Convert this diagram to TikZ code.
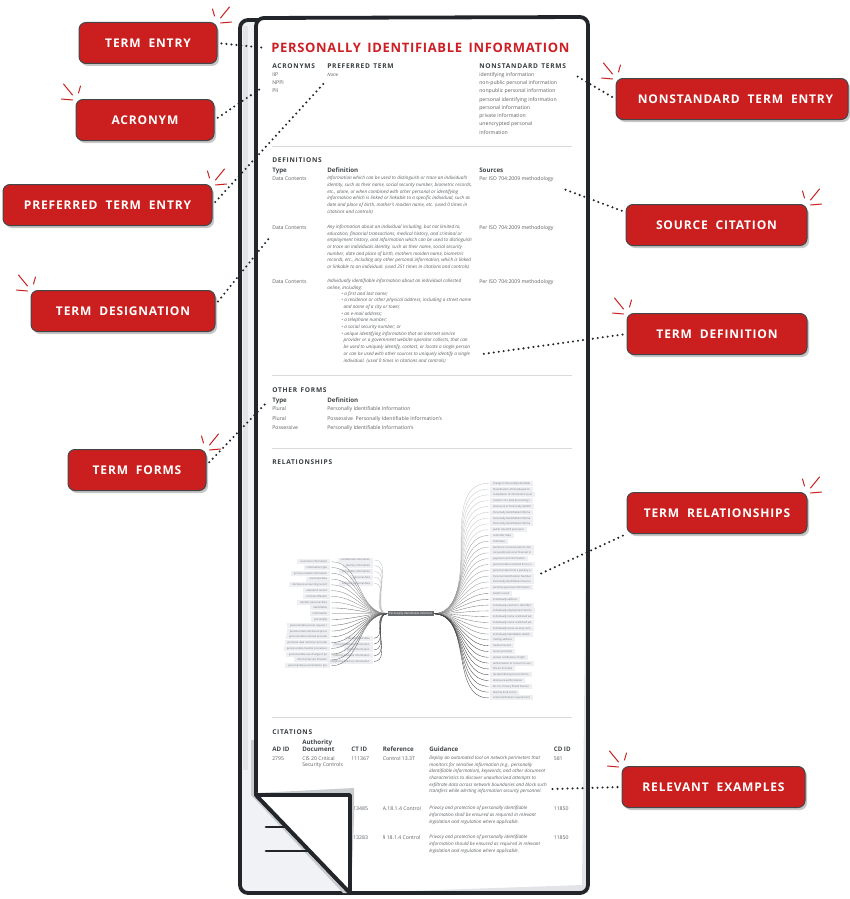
\documentclass[tikz,border=0pt]{standalone}
\usepackage{fontspec}
\setmainfont{Open Sans}
\newfontfamily\spacedfont[LetterSpace=7,WordSpace=2]{Open Sans}
\newfontfamily\headfont[LetterSpace=11,WordSpace=1.4]{Open Sans}
\newfontfamily\titlefont[LetterSpace=5.2,WordSpace=1.6]{Open Sans}
\usepackage{xcolor}
\usetikzlibrary{positioning,shadows}
\definecolor{calloutred}{HTML}{CB1E1E}
\definecolor{titlered}{HTML}{CF1F26}
\definecolor{inkdark}{HTML}{22262A}
\definecolor{bodygrey}{HTML}{5C5F63}
\definecolor{rulegrey}{HTML}{D8DADC}
\definecolor{stripgrey}{HTML}{F1F2F6}
\definecolor{stripdark}{HTML}{E2E4E8}
\definecolor{shadegrey}{HTML}{C9CCCE}
\definecolor{pillgrey}{HTML}{EDEFF3}
\definecolor{hubgrey}{HTML}{6B6E71}
\tikzset{sparks/.pic={\draw[spark] (-5,-13) -- (-3,-6) (3,-4) -- (12,-15) (3,1) -- (14,0);}}

\begin{document}
\begin{tikzpicture}[x=1pt,y=-1pt,semithick]
\tikzstyle{spark}=[draw=calloutred,line width=1pt,line cap=round]
\tikzstyle{callout}=[draw=inkdark!85,line width=1pt,fill=calloutred,rounded corners=7pt,
  minimum height=41pt,text=white,inner sep=0pt,
  font=\spacedfont\bfseries\fontsize{12}{14}\selectfont,
  general shadow={fill=black!22,shadow xshift=2pt,shadow yshift=-2.5pt}]
\tikzstyle{dotline}=[draw=inkdark,line width=2.3pt,line cap=round,dash pattern=on 0pt off 5pt,shorten <=4pt]
\tikzstyle{sheet}=[draw=inkdark,line width=3.8pt,line join=round]
\tikzstyle{rulerline}=[draw=rulegrey,line width=0.9pt]
\tikzstyle{head}=[anchor=west,inner sep=0pt,text=inkdark!90,text height=5pt,text depth=0pt,
  font=\headfont\bfseries\fontsize{6.6}{8}\selectfont]
\tikzstyle{colhead}=[anchor=west,inner sep=0pt,text=inkdark!85,text height=5pt,text depth=1pt,
  font=\bfseries\fontsize{6.2}{7.2}\selectfont]
\tikzstyle{body}=[anchor=west,inner sep=0pt,text=bodygrey,text height=4pt,text depth=1pt,
  font=\fontsize{5.15}{6.7}\selectfont]
\tikzstyle{para}=[anchor=north west,inner sep=0pt,text=bodygrey,align=left,yshift=-0.4pt,
  font=\itshape\fontsize{4.65}{6.68}\selectfont]
\tikzstyle{pillR}=[inner xsep=3pt,inner ysep=0pt,outer xsep=1.5pt,fill=pillgrey,text=bodygrey!85,minimum height=5pt,
  text height=2.4pt,text depth=0.5pt,font=\fontsize{2.6}{3}\selectfont]
\tikzstyle{pillL}=[pillR]
\tikzstyle{nextR}=[below=5.8pt of #1.west,anchor=west]
\tikzstyle{nextL}=[below=5.78pt of #1.east,anchor=east]
\tikzstyle{curve}=[line width=0.35pt,out=0,in=180]
\tikzstyle{curveL}=[line width=0.35pt,out=180,in=0]

% callouts
\node[callout,minimum width=138pt] (TE) at (148,43) {TERM ENTRY};
\node[callout,minimum width=138pt] (AC) at (145,120) {ACRONYM};
\node[callout,minimum width=209pt] (PT) at (107.5,205) {PREFERRED TERM ENTRY};
\node[callout,minimum width=184pt] (TD) at (123,311) {TERM DESIGNATION};
\node[callout,minimum width=138pt] (TF) at (137,470) {TERM FORMS};
\node[callout,minimum width=232pt] (NT) at (732,99) {\hspace*{7pt}NONSTANDARD TERM ENTRY};
\node[callout,minimum width=181pt] (SC) at (716.5,225) {SOURCE CITATION};
\node[callout,minimum width=180pt] (DF) at (717,334) {TERM DEFINITION};
\node[callout,minimum width=180pt] (RL) at (717,513) {TERM RELATIONSHIPS};
\node[callout,minimum width=183pt] (EX) at (713.5,787) {RELEVANT EXAMPLES};

\pic at (TE.north east) {sparks};
\pic[xscale=-1] at (AC.north west) {sparks};
\pic at (PT.north east) {sparks};
\pic[xscale=-1] at (TD.north west) {sparks};
\pic at (TF.north east) {sparks};
\pic[xscale=-1] at (NT.north west) {sparks};
\pic at (SC.north east) {sparks};
\pic[xscale=-1] at (DF.north west) {sparks};
\pic at (RL.north east) {sparks};
\pic[xscale=-1] at (EX.north west) {sparks};

% back sheet and front sheet
\draw[sheet,fill=stripgrey,rounded corners=8pt] (352,893) -- (240,893) -- (240,20) -- (300,20);
\fill[stripdark] (242.5,26) rectangle (248,770);
\fill[shadegrey] (251,740) -- (256,740) -- (256,795) -- (350,893) -- (343,893) -- (251,795) -- cycle;
\fill[white] (256,795) [rounded corners=8pt] -- (256,18) -- (588,17) -- (588,893) [sharp corners] -- (350,893) -- cycle;
\fill[stripdark] (588,380) -- (588,893) -- (350,893) -- (582,885) -- cycle;
\draw[sheet] (256,795) [rounded corners=8pt] -- (256,18) -- (588,17) -- (588,893) [sharp corners] -- (350,893) -- cycle;

% term entry
\node[anchor=west,inner sep=0pt,text=titlered,font=\titlefont\bfseries\fontsize{13}{15}\selectfont] (TITLE) at (271,48) {PERSONALLY IDENTIFIABLE INFORMATION};
\node[head] (hACR) at (272,66) {ACRONYMS};
\node[head] (hPRE) at (327,66) {PREFERRED TERM};
\node[head] (hNON) at (479,66) {NONSTANDARD TERMS};
\node[body] (a1) at (272,74.5) {IIP};
\node[body] (a2) at (272,83) {NPPI};
\node[body] (a3) at (272,91) {PII};
\node[body,font=\itshape\fontsize{4.65}{6.7}\selectfont] (p1) at (327,74.5) {None};
\node[body] (n1) at (479,74.5) {identifying information};
\node[body] (n2) at (479,83) {non-public personal information};
\node[body] (n3) at (479,91) {nonpublic personal information};
\node[body] (n4) at (479,99.5) {personal identifying information};
\node[body] (n5) at (479,108) {personal information};
\node[body] (n6) at (479,116) {private information};
\node[body] (n7) at (479,124) {unencrypted personal};
\node[body] (n8) at (479,132.5) {information};
\draw[rulerline] (272,146) -- (572,146);

% definitions
\node[head] (hDEF) at (272,160) {DEFINITIONS};
\node[colhead] (dT) at (272,170.5) {Type};
\node[colhead] (dD) at (327,170.5) {Definition};
\node[colhead] (dS) at (479,170.5) {Sources};
\node[body] (t1) at (272,179) {Data Contents};
\node[body] (s1) at (479,179) {Per ISO 704:2009 methodology};
\node[para] (d1) at (327,175.6) {Information which can be used to distinguish or trace an individual's\\
identity, such as their name, social security number, biometric records,\\
etc., alone, or when combined with other personal or identifying\\
information which is linked or linkable to a specific individual, such as\\
date and place of birth, mother's maiden name, etc. (used 0 times in\\
citations and controls)};
\node[body] (t2) at (272,227.5) {Data Contents};
\node[body] (s2) at (479,227.5) {Per ISO 704:2009 methodology};
\node[para] (d2) at (327,224.1) {Any information about an individual including, but not limited to,\\
education, financial transactions, medical history, and criminal or\\
employment history, and information which can be used to distinguish\\
or trace an individuals identity, such as their name, social security\\
number, date and place of birth, mothers maiden name, biometric\\
records, etc., including any other personal information, which is linked\\
or linkable to an individual. (used 251 times in citations and controls)};
\node[body] (t3) at (272,282) {Data Contents};
\node[body] (s3) at (479,282) {Per ISO 704:2009 methodology};
\node[para] (d3) at (327,278.6) {Individually identifiable information about an individual collected\\
online, including:};
\node[para,below=0pt of d3.south west,anchor=north west,xshift=14pt] (d3b) {\textbullet\ a first and last name;\\
\textbullet\ a residence or other physical address, including a street name\\
\hspace*{2.3pt}and name of a city or town;\\
\textbullet\ an e-mail address;\\
\textbullet\ a telephone number;\\
\textbullet\ a social security number; or\\
\textbullet\ unique identifying information that an internet service\\
\hspace*{2.3pt}provider or a government website operator collects, that can\\
\hspace*{2.3pt}be used to uniquely identify, contact, or locate a single person\\
\hspace*{2.3pt}or can be used with other sources to uniquely identify a single\\
\hspace*{2.3pt}individual. (used 0 times in citations and controls)};
\draw[rulerline] (272,375) -- (572,375);

% other forms
\node[head] (hOTH) at (272,390) {OTHER FORMS};
\node[colhead] (oT) at (272,400.5) {Type};
\node[colhead] (oD) at (327,400.5) {Definition};
\node[body] (o1) at (272,409) {Plural};
\node[body] (o2) at (272,418.5) {Plural};
\node[body] (o3) at (272,428) {Possessive};
\node[body] (f1) at (327,409) {Personally Identifiable Information};
\node[body] (f2) at (327,418.5) {Possessive\ \ Personally Identifiable Information's};
\node[body] (f3) at (327,428) {Personally Identifiable Information's};
\draw[rulerline] (272,448) -- (572,448);

% relationships
\node[head] (hREL) at (272,462) {RELATIONSHIPS};
\node[inner sep=0pt,fill=hubgrey,text=white,minimum width=46pt,minimum height=5pt,text height=2.4pt,text depth=0.5pt,font=\fontsize{2.9}{3.4}\selectfont] (HUB) at (410.5,613.7) {Personally Identifiable Informat};

\node[pillR,anchor=west] (R1) at (488.5,483.3) {change in Personally Identifiab};
\node[pillR,nextR=R1] (R2) {Classification of Files Based on};
\node[pillR,nextR=R2] (R3) {compilation of information (sum};
\node[pillR,nextR=R3] (R4) {creation of a data processing s};
\node[pillR,nextR=R4] (R5) {disclosure of Personally Identifi};
\node[pillR,nextR=R5] (R6) {Personally Identifiable Informa};
\node[pillR,nextR=R6] (R7) {Personally Identifiable Informa};
\node[pillR,nextR=R7] (R8) {Personally Identifiable Informa};
\node[pillR,nextR=R8] (R9) {public cloud PII processor};
\node[pillR,nextR=R9] (R10) {controller data};
\node[pillR,nextR=R10] (R11) {child data};
\node[pillR,nextR=R11] (R12) {electronic communications info};
\node[pillR,nextR=R12] (R13) {non-public personal financial in};
\node[pillR,nextR=R13] (R14) {payment card information};
\node[pillR,nextR=R14] (R15) {personal data collected from a c};
\node[pillR,nextR=R15] (R16) {personal data from a publicly a};
\node[pillR,nextR=R16] (R17) {Personal Identification Number};
\node[pillR,nextR=R17] (R18) {Personally Identifiable Financia};
\node[pillR,nextR=R18] (R19) {sensitive personal information};
\node[pillR,nextR=R19] (R20) {health record};
\node[pillR,nextR=R20] (R21) {individually address};
\node[pillR,nextR=R21] (R22) {individually electronic identifier};
\node[pillR,nextR=R22] (R23) {individually employment inform};
\node[pillR,nextR=R23] (R24) {individually name combined wit};
\node[pillR,nextR=R24] (R25) {individually name combined wit};
\node[pillR,nextR=R25] (R26) {individually social security num};
\node[pillR,nextR=R26] (R27) {Individually Identifiable Health};
\node[pillR,nextR=R27] (R28) {mailing address};
\node[pillR,nextR=R28] (R29) {medical record};
\node[pillR,nextR=R29] (R30) {access principle};
\node[pillR,nextR=R30] (R31) {annual notification of right};
\node[pillR,nextR=R31] (R32) {authorization of consent to use};
\node[pillR,nextR=R32] (R33) {Choice Principle};
\node[pillR,nextR=R33] (R34) {de-identified personal inform};
\node[pillR,nextR=R34] (R35) {disclosure authorization};
\node[pillR,nextR=R35] (R36) {EU-U.S. Privacy Shield Frames};
\node[pillR,nextR=R36] (R37) {identity theft victim};
\node[pillR,nextR=R37] (R38) {initial notification requirement};

\node[pillL,anchor=east] (L1) at (331.5,561.7) {customer information};
\node[pillL,nextL=L1] (L2) {information type};
\node[pillL,nextL=L2] (L3) {privacy-related information};
\node[pillL,nextL=L3] (L4) {restricted data};
\node[pillL,nextL=L4] (L5) {disclosure accounting record};
\node[pillL,nextL=L5] (L6) {education record};
\node[pillL,nextL=L6] (L7) {criminal offender};
\node[pillL,nextL=L7] (L8) {transfer personal data};
\node[pillL,nextL=L8] (L9) {identifiable};
\node[pillL,nextL=L9] (L10) {information};
\node[pillL,nextL=L10] (L11) {personally};
\node[pillL,nextL=L11] (L12) {personal data access request r};
\node[pillL,nextL=L12] (L13) {personal data disclosure proce};
\node[pillL,nextL=L13] (L14) {personal data removal procedu};
\node[pillL,nextL=L14] (L15) {personal data retention procedu};
\node[pillL,nextL=L15] (L16) {personal data transfer procedure};
\node[pillL,nextL=L16] (L17) {personal data use change of pu};
\node[pillL,nextL=L17] (L18) {Internet Service Provider};
\node[pillL,nextL=L18] (L19) {personal data use limitation pro};

\node[pillL,anchor=east] (U1) at (374.5,560) {confidential information};
\node[pillL,nextL=U1] (U2) {identity information};
\node[pillL,nextL=U2] (U3) {non-public information};
\node[pillL,nextL=U3] (U4) {personal data};
\node[pillL,nextL=U4] (U5) {sensitive personal data};
\node[pillL,anchor=east] (D1) at (374,638.3) {de-identified data};
\node[pillL,nextL=D1] (D2) {non-confidential information};
\node[pillL,nextL=D2] (D3) {public information};
\node[pillL,nextL=D3] (D4) {Publicly Available Information};
\node[pillL,nextL=D4] (D5) {telephone directory information};

\path[curve,draw=black!22] (HUB.east) edge (R1.west) edge (R2.west) edge (R3.west) edge (R4.west) edge (R5.west) edge (R6.west) edge (R7.west) edge (R8.west) edge (R9.west);
\path[curve,draw=black!38] (HUB.east) edge (R10.west) edge (R11.west) edge (R12.west) edge (R13.west) edge (R14.west) edge (R15.west) edge (R16.west) edge (R17.west) edge (R18.west) edge (R19.west);
\path[curve,draw=black!52] (HUB.east) edge (R20.west) edge (R21.west) edge (R22.west) edge (R23.west) edge (R24.west) edge (R25.west) edge (R26.west) edge (R27.west) edge (R28.west);
\path[curve,draw=black!72] (HUB.east) edge (R29.west) edge (R30.west) edge (R31.west) edge (R32.west) edge (R33.west) edge (R34.west) edge (R35.west) edge (R36.west) edge (R37.west) edge (R38.west);
\path[curveL,draw=black!25] (HUB.west) edge (U1.east) edge (U2.east) edge (U3.east) edge (U4.east) edge (U5.east);
\path[curveL,draw=black!45] (HUB.west) edge (L1.east) edge (L2.east) edge (L3.east) edge (L4.east) edge (L5.east) edge (L6.east) edge (L7.east) edge (L8.east);
\path[curveL,draw=black!60] (HUB.west) edge (L9.east) edge (L10.east) edge (L11.east) edge (L12.east) edge (L13.east) edge (L14.east) edge (L15.east) edge (L16.east) edge (L17.east) edge (L18.east) edge (L19.east);
\path[curveL,draw=black!72] (HUB.west) edge (D1.east) edge (D2.east) edge (D3.east) edge (D4.east) edge (D5.east);
\draw[rulerline] (272,717) -- (572,717);

% citations
\node[head] (hCIT) at (272,731.5) {CITATIONS};
\node[colhead] (cA) at (272,749.5) {AD ID};
\node[colhead] (cB1) at (302,742.5) {Authority};
\node[colhead] (cB2) at (302,749.5) {Document};
\node[colhead] (cC) at (351,749.5) {CT ID};
\node[colhead] (cR) at (382.5,749.5) {Reference};
\node[colhead] (cG) at (429,749.5) {Guidance};
\node[colhead] (cD) at (553.5,749.5) {CD ID};
\node[body] (ca1) at (272,758.5) {2795};
\node[body] (cb1) at (302,758.5) {CIS 20 Critical};
\node[body] (cb2) at (302,765) {Security Controls};
\node[body] (cc1) at (351,758.5) {111367};
\node[body] (cr1) at (382.5,758.5) {Control 13.3T};
\node[para] (cg1) at (429,755.1) {Deploy an automated tool on network perimeters that\\
monitors for sensitive information (e.g., personally\\
identifiable information), keywords, and other document\\
characteristics to discover unauthorized attempts to\\
exfiltrate data across network boundaries and block such\\
transfers while alerting information security personnel.};
\node[body] (cd1) at (553.5,758.5) {581};
\node[body] (cc2) at (350,809) {113485};
\node[body] (cr2) at (382.5,809) {A.18.1.4 Control};
\node[para] (cg2) at (429,805.6) {Privacy and protection of personally identifiable\\
information shall be ensured as required in relevant\\
legislation and regulation where applicable.};
\node[body] (cd2) at (553.5,809) {11850};
\node[body] (cc3) at (350,838) {113283};
\node[body] (cr3) at (382.5,838) {\S\ 18.1.4 Control};
\node[para] (cg3) at (429,834.6) {Privacy and protection of personally identifiable\\
information should be ensured as required in relevant\\
legislation and regulation where applicable.};
\node[body] (cd3) at (553.5,838) {11850};

% folded corner
\fill[shadegrey] (256,793) -- (354,788) -- (354,820) -- (351,893) -- (351,795) -- cycle;
\draw[sheet,fill=white] (256,795) -- (350,795) -- (350,893) -- cycle;
\coordinate (m1a) at (266,827);
\coordinate (m1b) at (287,827);
\coordinate (m2a) at (266,851);
\coordinate (m2b) at (310,851);
\draw[draw=inkdark,line width=2.8pt,line cap=round] (m1a) -- (m1b) (m2a) -- (m2b);

% connectors
\coordinate (tTE) at (266,48);
\coordinate (tAC) at (263,87);
\coordinate (tPT) at (326,81);
\coordinate (tTD) at (270,237);
\coordinate (tTF) at (268,401);
\coordinate (tNT) at (575,75);
\coordinate (tSC) at (561,188);
\coordinate (tDF) at (483,354);
\coordinate (tRL) at (540,574);
\coordinate (tEX) at (552,789);
\draw[dotline] (TE.east) -- (tTE);
\draw[dotline] (AC.east) -- (tAC);
\draw[dotline] (PT.east) -- (tPT);
\draw[dotline] (TD.4) -- (tTD);
\draw[dotline] (TF.4) -- (tTF);
\draw[dotline] (NT.west) -- (tNT);
\draw[dotline] (SC.172) -- (tSC);
\draw[dotline] (DF.west) -- (tDF);
\draw[dotline] (RL.south west) -- (tRL);
\draw[dotline] (EX.west) -- (tEX);
\useasboundingbox (0,0) rectangle (849,899);
\end{tikzpicture}
\end{document}
